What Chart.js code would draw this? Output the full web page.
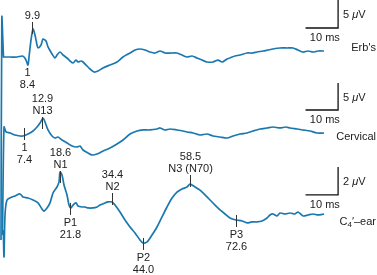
<!DOCTYPE html>
<html><head><meta charset="utf-8">
<script src="https://cdn.jsdelivr.net/npm/chart.js@4"></script>
<style>html,body{margin:0;padding:0;background:#fff}canvas{display:block}</style>
</head><body>
<canvas id="c" width="377" height="275"></canvas>
<script>
// ---- data (time in ms, amplitude in µV) ----
const erbTime = [0.46,0.71,1.23,1.38,3.23,5.38,6.91,7.53,8.14,8.75,9.06,9.68,10.29,10.9,11.52,11.83,12.75,13.36,14.28,14.9,16.13,17.05,17.66,18.58,19.5,20.73,21.66,22.58,23.5,24.11,25.03,25.65,26.88,27.8,29.03,30.26,31.79,33.94,36.09,37.93,40.09,41.62,43.16,44.69,46.23,47.76,49.3,50.83,52.37,54.52,56.06,57.6,59.13,60.67,62.2,63.74,65.58,67.12,68.35,69.88,71.42,72.34,73.87,76.02,77.56,79.09,80.94,82.47,84.01,86.16,88.31,90.15,91.69,93.23,94.76,96.3,97.84,99.67];
const erbUv = [-32.7,7.14,0,0,0,0,0.18,0,-0.54,-1.43,0,3.04,5.0,3.93,2.14,1.61,2.14,3.21,2.86,1.79,0.54,-0.18,0.36,0.89,0.36,-0.18,-0.71,-1.07,-0.54,-0.89,-0.71,-0.89,-1.61,-2.14,-2.68,-2.5,-1.96,-1.43,-0.89,0,0.71,1.25,1.43,1.25,0.89,0.71,1.07,0.71,0.71,0.71,0.36,0,0.18,-0.18,-0.54,-0.89,-0.89,-0.54,-0.89,-0.36,0,0.18,0.36,0.71,0.71,0.89,1.07,1.25,1.43,1.61,1.61,1.61,1.25,0.89,1.07,0.89,1.07,1.07];

const cervTime = [0.92,1.38,2.0,3.23,4.76,6.3,7.22,8.75,10.29,11.52,12.44,13.36,13.98,14.9,16.13,17.05,17.97,19.2,20.73,22.27,23.8,24.73,25.65,27.18,28.41,29.95,31.79,33.94,36.09,37.93,40.09,42.24,44.08,46.23,48.38,49.3,50.83,52.37,54.52,56.37,57.6,59.44,61.59,63.74,65.58,67.73,69.88,71.72,73.87,76.02,77.87,80.02,82.17,84.01,86.16,88.0,89.23,91.39,93.23,95.38,97.53,99.67];
const cervUv = [-18.9,1.11,0.19,0,-0.37,-0.56,-0.56,-0.19,0.37,1.11,1.85,2.78,2.04,0.56,-0.56,-0.93,-0.74,-1.3,-1.85,-2.41,-2.59,-2.41,-3.15,-3.7,-4.07,-3.89,-3.33,-2.78,-2.04,-1.3,-0.19,0.37,0.56,0.56,0.74,0.93,0.56,0.74,0.56,0.37,0.19,0,-0.37,-0.19,-0.56,-0.74,-0.93,-0.56,-0.19,0,0.37,0.74,0.93,1.11,0.93,1.11,0.93,0.74,0.56,0.37,0,0];

const c4Time = [1.17,1.38,1.69,2.3,3.84,4.76,6.3,7.22,8.75,10.29,11.83,13.05,13.67,14.59,15.51,16.43,17.66,18.28,18.58,19.2,19.81,20.73,21.35,21.96,22.58,23.5,24.11,25.34,26.26,27.18,28.72,29.95,30.87,32.41,33.33,34.56,35.48,37.01,38.55,40.09,41.62,43.16,44.08,45.31,46.84,48.38,49.91,51.45,52.99,54.52,56.06,57.6,58.51,60.05,61.59,63.12,64.66,66.2,67.73,69.27,70.8,72.64,74.49,76.02,77.56,79.09,80.63,82.17,83.09,84.01,85.24,86.16,87.7,89.23,90.77,91.69,93.23,94.76,96.3,97.84,99.67];
const c4Uv = [-1.64,-3.57,-0.57,0.5,0.71,0.79,0.93,0.71,0.64,0.5,0.29,-0.14,-0.29,-0.07,0.29,1.0,1.43,1.79,2.5,2.29,1.57,0.86,0.14,-0.07,0.14,0.29,0.07,0,0,-0.07,-0.07,0,0.14,0.29,0.36,0.36,0.14,-0.36,-0.93,-1.43,-1.86,-2.36,-2.57,-2.5,-2.0,-1.43,-0.71,0,0.64,1.07,1.29,1.43,1.64,1.43,1.21,0.86,0.5,0.14,-0.21,-0.5,-0.79,-0.93,-1.0,-1.14,-1.07,-1.07,-1.0,-0.79,-0.57,-0.5,-0.64,-0.43,-0.5,-0.43,-0.5,-0.36,-0.64,-0.57,-0.5,-0.57,-0.5];

// peak markers: latency (ms), marker amplitude (µV), text lines, side
const erbPeakLat = [8.4, 9.9];
const erbPeakUv = [-0.36, 5.18];
const erbPeakText = [["1","8.4"], ["9.9"]];
const erbPeakSide = ["below", "above"];
const erbPeakTick = [false, true];

const cervPeakLat = [7.4, 12.9];
const cervPeakUv = [-0.19, 1.85];
const cervPeakText = [["1","7.4"], ["N13","12.9"]];
const cervPeakSide = ["below", "above"];
const cervPeakTick = [true, true];

const c4PeakLat = [18.6, 21.8, 34.4, 44.0, 58.5, 72.6];
const c4PeakUv = [2.14, -0.14, 0.57, -2.64, 1.86, -1.0];
const c4PeakText = [["N1","18.6"], ["P1","21.8"], ["N2","34.4"], ["P2","44.0"], ["N3 (N70)","58.5"], ["P3","72.6"]];
const c4PeakSide = ["above","below","above","below","above","below"];
const c4PeakTick = [true, true, true, true, true, true];

// calibration bars
const barMs = 10;
const erbBarUv = 5, cervBarUv = 5, c4BarUv = 2;
const traceNames = ["Erb's", "Cervical", "C4"];

// ---- layout (axis ranges & bar placement) ----
const BAR_T0 = 94;
const layout = {
  yE: {min: -38.93, max: 10.18, barBase: 5.18, nameDy: 20},
  yC: {min: -26.3, max: 24.63, barBase: 4.26, nameDy: 27},
  yP: {min: -4.86, max: 14.79, barBase: 0.86, nameDy: 27}
};
const LINE = '#1a78b0';

const pts = (t, v) => t.map((x, i) => ({x, y: v[i]}));
const bar = (uv, base) => [{x: BAR_T0, y: base}, {x: BAR_T0 + barMs, y: base}, {x: BAR_T0 + barMs, y: base + uv}];

const traceStyle = {borderColor: LINE, borderWidth: 1.7, pointRadius: 0, tension: 0.25, fill: false};
const barStyle = {borderColor: '#111', borderWidth: 1.3, pointRadius: 0, tension: 0, fill: false};

const markerSets = [
  {y: 'yE', lat: erbPeakLat, uv: erbPeakUv, text: erbPeakText, side: erbPeakSide, tick: erbPeakTick},
  {y: 'yC', lat: cervPeakLat, uv: cervPeakUv, text: cervPeakText, side: cervPeakSide, tick: cervPeakTick},
  {y: 'yP', lat: c4PeakLat, uv: c4PeakUv, text: c4PeakText, side: c4PeakSide, tick: c4PeakTick}
];
const barSets = [
  {y: 'yE', uv: erbBarUv, name: 0},
  {y: 'yC', uv: cervBarUv, name: 1},
  {y: 'yP', uv: c4BarUv, name: 2}
];

const FONT = '"Liberation Sans", Arial, sans-serif';
const TEXT = '#222';

const annot = {
  id: 'annot',
  afterDatasetsDraw(chart) {
    const ctx = chart.ctx, X = chart.scales.x;
    ctx.save();
    ctx.fillStyle = TEXT;
    ctx.strokeStyle = '#333';
    ctx.lineWidth = 1;
    ctx.textAlign = 'center';
    ctx.textBaseline = 'middle';
    ctx.font = '11px ' + FONT;
    markerSets.forEach(s => {
      const Y = chart.scales[s.y];
      s.lat.forEach((t, i) => {
        const x = Math.round(X.getPixelForValue(t)) + 0.5;
        const y = Y.getPixelForValue(s.uv[i]);
        if (s.tick[i]) {
          ctx.beginPath(); ctx.moveTo(x, y - 6); ctx.lineTo(x, y + 6); ctx.stroke();
        }
        s.text[i].forEach((line, j) => {
          const dy = s.side[i] === 'above' ? -(12 + 12 * j) : (14 + 12 * j);
          ctx.fillText(line, x, y + dy);
        });
      });
    });
    // calibration labels and trace names
    barSets.forEach(b => {
      const Y = chart.scales[b.y], L = layout[b.y];
      const xl = X.getPixelForValue(BAR_T0), xr = X.getPixelForValue(BAR_T0 + barMs);
      const yb = Y.getPixelForValue(L.barBase), yt = Y.getPixelForValue(L.barBase + b.uv);
      ctx.textAlign = 'center';
      ctx.font = '11px ' + FONT;
      ctx.fillText(barMs + ' ms', (xl + xr) / 2 + 3, yb + 10);
      // amplitude label "n µV" with italic mu
      ctx.textAlign = 'left';
      let xx = xr + 5; const ym = (yb + yt) / 2 + 1;
      const p1 = b.uv + ' ';
      ctx.fillText(p1, xx, ym); xx += ctx.measureText(p1).width;
      ctx.font = 'italic 11px ' + FONT;
      ctx.fillText('\u03bc', xx, ym); xx += ctx.measureText('\u03bc').width;
      ctx.font = '11px ' + FONT;
      ctx.fillText('V', xx, ym);
      // trace name, right aligned
      const yn = yb + L.nameDy;
      const right = chart.width - 1;
      if (b.name === 2) {
        const a = 'C', sub = '4', rest = '\u2032\u2013ear';
        ctx.font = '11px ' + FONT; const wa = ctx.measureText(a).width, wr = ctx.measureText(rest).width;
        ctx.font = '8px ' + FONT; const ws = ctx.measureText(sub).width;
        let x0 = right - wa - ws - wr;
        ctx.textAlign = 'left';
        ctx.font = '11px ' + FONT; ctx.fillText(a, x0, yn); x0 += wa;
        ctx.font = '8px ' + FONT; ctx.fillText(sub, x0, yn + 3); x0 += ws;
        ctx.font = '11px ' + FONT; ctx.fillText(rest, x0, yn);
      } else {
        ctx.textAlign = 'right';
        ctx.font = '11px ' + FONT;
        ctx.fillText(traceNames[b.name], right, yn);
      }
    });
    ctx.restore();
  }
};

new Chart(document.getElementById('c'), {
  type: 'line',
  data: {
    datasets: [
      Object.assign({label: traceNames[0], data: pts(erbTime, erbUv), yAxisID: 'yE'}, traceStyle),
      Object.assign({label: traceNames[1], data: pts(cervTime, cervUv), yAxisID: 'yC'}, traceStyle),
      Object.assign({label: traceNames[2], data: pts(c4Time, c4Uv), yAxisID: 'yP'}, traceStyle),
      Object.assign({label: 'barE', data: bar(erbBarUv, layout.yE.barBase), yAxisID: 'yE'}, barStyle),
      Object.assign({label: 'barC', data: bar(cervBarUv, layout.yC.barBase), yAxisID: 'yC'}, barStyle),
      Object.assign({label: 'barP', data: bar(c4BarUv, layout.yP.barBase), yAxisID: 'yP'}, barStyle)
    ]
  },
  options: {
    responsive: false,
    animation: false,
    devicePixelRatio: 1,
    layout: {padding: 0},
    plugins: {legend: {display: false}, tooltip: {enabled: false}},
    scales: {
      x: {type: 'linear', min: 0.15, max: 115.95, display: false},
      yE: {type: 'linear', min: layout.yE.min, max: layout.yE.max, display: false},
      yC: {type: 'linear', min: layout.yC.min, max: layout.yC.max, display: false},
      yP: {type: 'linear', min: layout.yP.min, max: layout.yP.max, display: false}
    }
  },
  plugins: [annot]
});
</script>
</body></html>
